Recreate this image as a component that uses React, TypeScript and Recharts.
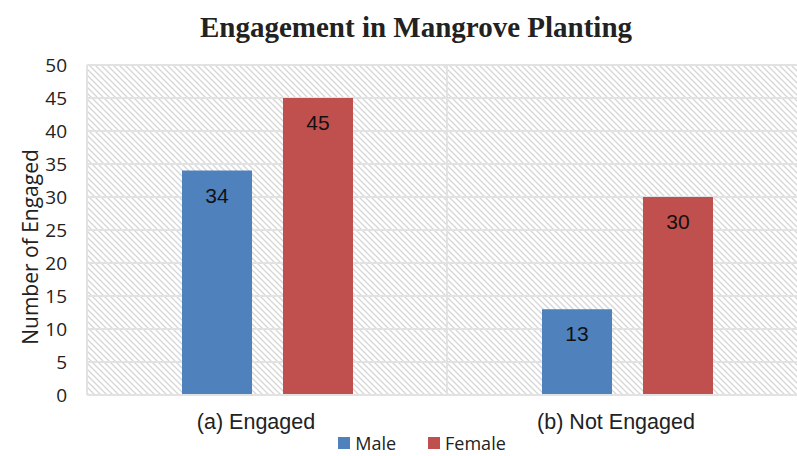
import { BarChart, Bar, XAxis, YAxis, CartesianGrid, Legend, LabelList } from 'recharts';

const categories = ['(a) Engaged', '(b) Not Engaged'];
const maleValues = [34, 13];
const femaleValues = [45, 30];
const yTicks = [0, 5, 10, 15, 20, 25, 30, 35, 40, 45, 50];
const seriesNames = ['Male', 'Female'];
const seriesColors = ['#4F81BD', '#C0504D'];

const data = categories.map((name, i) => ({ name, Male: maleValues[i], Female: femaleValues[i] }));

const arial = '"Liberation Sans", Arial, sans-serif';
const sans = '"Open Sans", "Noto Sans", sans-serif';

function LegendBox() {
  return (
    <div style={{ display: 'flex', justifyContent: 'center', gap: 32, fontFamily: sans, fontSize: 18, lineHeight: '24px', color: '#222', paddingLeft: 12 }}>
      {seriesNames.map((n, i) => (
        <div key={n} style={{ display: 'flex', alignItems: 'center', gap: 5 }}>
          <span style={{ width: 12, height: 12, background: seriesColors[i], display: 'inline-block' }} />
          <span>{n}</span>
        </div>
      ))}
    </div>
  );
}

function YLabel({ viewBox }: any) {
  const x = 30;
  const y = viewBox.y + viewBox.height / 2 + 17;
  return (
    <text x={x} y={y} transform={`rotate(-90, ${x}, ${y})`} textAnchor="middle" dominantBaseline="central"
      fill="#222" fontSize={21} fontFamily={sans}>
      Number of Engaged
    </text>
  );
}

export default function App() {
  return (
    <div style={{ position: 'absolute', left: 0, top: 0, width: 797, height: 456, background: '#fff', overflow: 'hidden' }}>
      <svg width={0} height={0} style={{ position: 'absolute' }}>
        <defs>
          <pattern id="hatch" patternUnits="userSpaceOnUse" width={6} height={6}>
            <rect width={6} height={6} fill="#ffffff" />
            <path d="M-1,-1 L7,7 M-1,5 L1,7 M5,-1 L7,1" stroke="#d6d6d6" strokeWidth={1.3} />
          </pattern>
        </defs>
      </svg>
      <div
        style={{
          position: 'absolute',
          top: 11,
          left: 0,
          width: 832,
          textAlign: 'center',
          fontFamily: '"Liberation Serif", "Times New Roman", serif',
          fontWeight: 'bold',
          fontSize: 29,
          color: '#222',
        }}
      >
        Engagement in Mangrove Planting
      </div>
      <BarChart
        width={810}
        height={456}
        data={data}
        margin={{ top: 65, right: 3, left: 0, bottom: 0 }}
        barCategoryGap={109}
        barGap={31}
      >
        <CartesianGrid
          fill="url(#hatch)"
          stroke="#e2e2e2"
          strokeWidth={2}
          verticalCoordinatesGenerator={({ offset }: any) => [
            offset.left,
            offset.left + offset.width / 2,
            offset.left + offset.width,
          ]}
        />
        <XAxis
          dataKey="name"
          axisLine={{ stroke: '#e2e2e2', strokeWidth: 2 }}
          tickLine={false}
          tick={{ fill: '#222', fontSize: 21.5, fontFamily: arial, dx: -11 }}
          tickMargin={13}
          height={36}
        />
        <YAxis
          domain={[0, 50]}
          ticks={yTicks}
          width={87}
          axisLine={false}
          tickLine={false}
          tick={{ fill: '#222', fontSize: 19, fontFamily: sans }}
          tickMargin={14}
          label={<YLabel />}
        />
        <Legend verticalAlign="bottom" height={25} content={() => <LegendBox />} wrapperStyle={{ left: 0, width: 832 }} />
        <Bar dataKey="Male" fill={seriesColors[0]} barSize={70} isAnimationActive={false}>
          <LabelList dataKey="Male" position="insideTop" offset={17} fill="#111" fontSize={21} fontFamily={arial} />
        </Bar>
        <Bar dataKey="Female" fill={seriesColors[1]} barSize={70} isAnimationActive={false}>
          <LabelList dataKey="Female" position="insideTop" offset={17} fill="#111" fontSize={21} fontFamily={arial} />
        </Bar>
      </BarChart>
    </div>
  );
}
